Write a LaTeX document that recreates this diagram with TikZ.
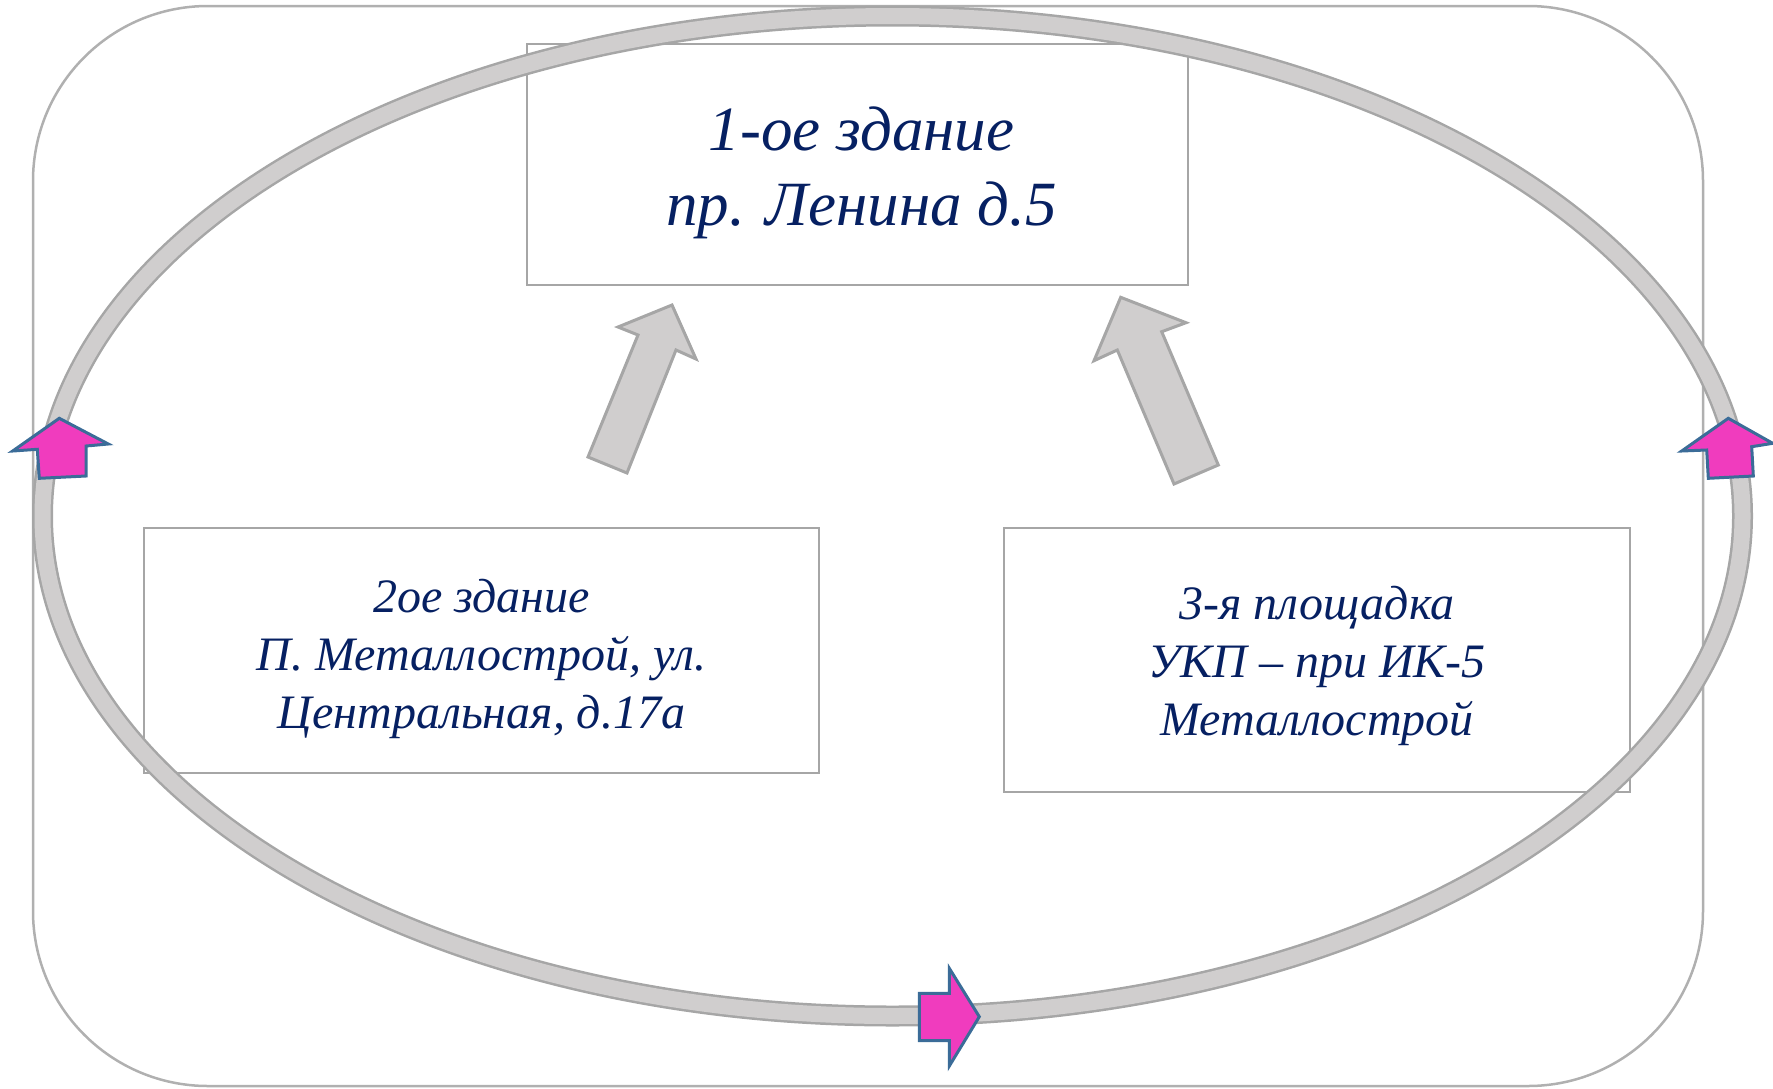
\documentclass[tikz,border=0pt]{standalone}
\usepackage{fontspec}
\setmainfont{Liberation Serif}
\definecolor{bandgray}{HTML}{D0CECE}
\definecolor{bordergray}{HTML}{A6A6A6}
\definecolor{framegray}{HTML}{B0B0B0}
\definecolor{pinkfill}{HTML}{F03CBE}
\definecolor{pinkline}{HTML}{3B6C98}
\definecolor{navy}{HTML}{062062}
\tikzset{
  box/.style={draw=bordergray, line width=2.2pt, fill=white, inner sep=0pt},
  label text/.style={inner sep=0pt, align=center, text=navy},
  bigtext/.style={label text, font=\fontsize{63}{75}\selectfont\itshape},
  smalltext/.style={label text, font=\fontsize{48}{58}\selectfont\itshape},
  grayarrow/.style={fill=bandgray, draw=bordergray, line width=3pt, line join=miter},
  pinkarrow/.style={fill=pinkfill, draw=pinkline, line width=3pt, line join=miter},
  band/.style={draw=bordergray, line width=2.5pt, double=bandgray, double distance=16pt},
  frame/.style={draw=framegray, line width=2.5pt, rounded corners=175pt}
}
\begin{document}
\begin{tikzpicture}[x=1pt, y=-1pt]
\useasboundingbox (0,0) rectangle (1773,1088);
% outer frame
\draw[frame] (33,6) rectangle (1703,1086);
% boxes
\node[box, minimum width=661pt, minimum height=241pt] (b1) at (857.5,164.5) {};
\node[box, minimum width=675pt, minimum height=245pt] (b2) at (481.5,650.5) {};
\node[box, minimum width=626pt, minimum height=264pt] (b3) at (1317,660) {};
\node[bigtext] (t1) at ([xshift=4pt, yshift=-8pt]b1.center) {1-ое здание\\пр. Ленина д.5};
\node[smalltext] (t2) at ([yshift=-8pt]b2.center) {2ое здание\\П. Металлострой, ул.\\Центральная, д.17а};
\node[smalltext] (t3) at ([yshift=-6pt]b3.center) {3-я площадка\\УКП -- при ИК-5\\Металлострой};
% gray block arrows
\draw[grayarrow] (672,305) -- (696,359) -- (676,350) -- (627,473) -- (588,457)
  -- (638,335) -- (618,327) -- cycle;
\draw[grayarrow] (1120.7,297.3) -- (1186,322.7) -- (1161.7,331.7) -- (1218.3,465)
  -- (1174,484) -- (1117.3,350) -- (1094,360.7) -- cycle;
% cycle band
\coordinate (c) at (892.5,516);
\draw[band] (c) ellipse [x radius=850, y radius=500];
% pink arrows
\draw[pinkarrow] (59.3,418.3) -- (108.3,444) -- (86,446) -- (86,476) -- (39.3,478.3)
  -- (37.3,449.3) -- (12.7,451) -- cycle;
\draw[pinkarrow] (1728.3,418.3) -- (1772.7,443.3) -- (1751.7,446.7) -- (1753.3,476)
  -- (1708.3,478.3) -- (1706.7,450) -- (1681.7,451) -- cycle;
\draw[pinkarrow] (979.3,1016.7) -- (949.3,1066) -- (949.3,1040.7) -- (919.3,1040.7)
  -- (919.3,993.3) -- (949.3,993.3) -- (949.3,968.3) -- cycle;
\end{tikzpicture}
\end{document}
